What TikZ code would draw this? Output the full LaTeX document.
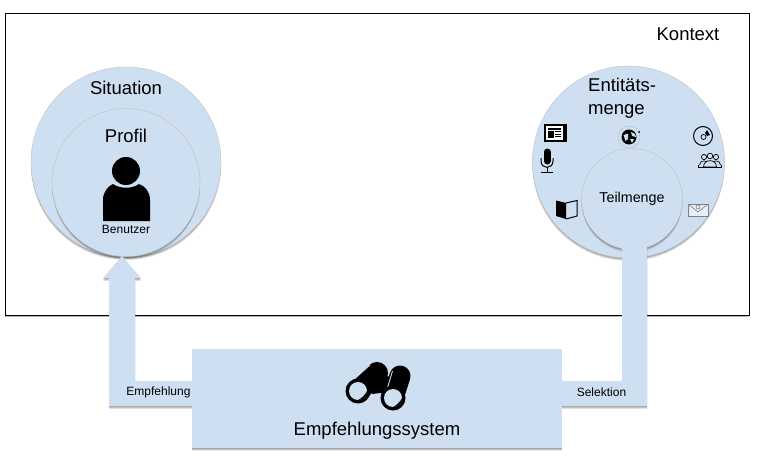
\documentclass[tikz,border=0pt]{standalone}
\usepackage{fontspec}
\setmainfont{Liberation Sans}
\usetikzlibrary{shadows}
\definecolor{paleblue}{RGB}{205,223,240}
\newcommand{\bigfont}{\fontsize{18.5}{23}\selectfont}
\newcommand{\midfont}{\fontsize{14.3}{17}\selectfont}
\newcommand{\smallfont}{\fontsize{12}{14}\selectfont}
\tikzset{
  softshadow/.style={
    general shadow={shadow xshift=0pt,shadow yshift=-1pt,fill=black,opacity=0.16},
    general shadow={shadow xshift=0pt,shadow yshift=-2pt,fill=black,opacity=0.14},
    general shadow={shadow xshift=0pt,shadow yshift=-3pt,fill=black,opacity=0.10},
  },
  bubble/.style={circle,fill=paleblue,draw=black!22,line width=0.5pt,inner sep=0pt,softshadow},
  panel/.style={fill=paleblue,softshadow},
  label/.style={inner sep=0pt,align=center,text=black},
  icon/.style={fill=black,draw=none},
  iconline/.style={draw=black,fill=none,line width=1pt},
}
\begin{document}
\begin{tikzpicture}[x=1pt,y=-1pt]
    \useasboundingbox (0,0) rectangle (758,460);

    % context frame
    \node[draw=black,line width=0.7pt,fill=white,minimum width=744pt,minimum height=302pt,inner sep=0pt,
      drop shadow={shadow xshift=0pt,shadow yshift=-1.5pt,fill=black,opacity=0.3}] (frame) at (377,164) {};
    \node[label] (kontext) at (688,34) {\bigfont Kontext};

    % left side
    \node[bubble,minimum size=190pt] (situation) at (126,162) {};
    \node[bubble,minimum size=148pt] (profil) at (126,182.5) {};
    \node[label] (situationtext) at (126,88) {\bigfont Situation};
    \node[label] (profiltext) at (126,136) {\bigfont Profil};

    % user
    \node[circle,fill=black,minimum size=28pt,inner sep=0pt] (head) at (126,171) {};
    \fill[icon] (103,221) -- (103,200) .. controls (103,192) and (108,186) .. (113,184)
      .. controls (120,189) and (132,189) .. (139,184)
      .. controls (145,186) and (150,192) .. (150,200) -- (150,221) -- cycle;
    \node[label] (benutzer) at (126,229) {\smallfont Benutzer};

    % right side
    \node[bubble,minimum size=192pt] (entitaet) at (628.5,162) {};
    \node[bubble,minimum size=101pt] (teilmenge) at (632,199) {};
    \node[label,align=left,anchor=west,font=\bigfont] (entitaettext) at (588,98) {Entitäts-\\menge};
    \node[label] (teilmengetext) at (632,199) {\midfont Teilmenge};

    % arms
    \fill[panel] (622,245) -- (647,245) -- (647,406) -- (540,406) -- (540,381) -- (622,381) -- cycle;
    \fill[panel] (220,381) -- (135,381) -- (135,278) -- (141,278) -- (122,256) -- (103,278)
      -- (109,278) -- (109,406) -- (220,406) -- cycle;

    % system
    \node[panel,minimum width=370pt,minimum height=99pt,inner sep=0pt] (system) at (377,398.5) {};
    \node[label] (empfehlung) at (158.5,392) {\smallfont Empfehlung};
    \node[label] (selektion) at (601.5,392) {\smallfont Selektion};
    \node[label] (systemtext) at (377,431) {\bigfont Empfehlungssystem};

    % binoculars
    \draw[black,line width=22pt,line cap=round] (358,391) -- (377,373);
    \draw[black,line width=21pt,line cap=round] (393,398) -- (400,376);
    \fill[black] (378,372) -- (396,380) -- (388,392) -- (372,394) -- cycle;
    \draw[paleblue,line width=0.9pt] (351,382) -- (370,365);
    \draw[paleblue,line width=0.9pt] (386.5,391) -- (392.5,371);
    \foreach \cx/\cy in {358/391,393/398}{
      \fill[black] (\cx,\cy) circle (12.5pt);
      \fill[paleblue] (\cx,\cy) circle (9pt);
      \fill[black] (\cx+9,\cy) .. controls (\cx+9,\cy+6) and (\cx+5,\cy+9) .. (\cx,\cy+9)
        .. controls (\cx+4,\cy+7) and (\cx+7,\cy+4) .. cycle;
    }

    % newspaper
    \fill[icon] (544,124) rectangle (567,142);
    \fill[white] (546,126) rectangle (562.5,140);
    \fill[icon] (547.5,127.5) rectangle (561,129.5);
    \fill[icon] (547.5,131) rectangle (553.5,138);
    \foreach \ly in {131,133.5,136}{
      \fill[icon] (555,\ly) rectangle (561,\ly+1.2);
    }

    % microphone
    \draw[black,line width=7pt,line cap=round] (547,152) -- (547,161);
    \draw[iconline] (541,158) -- (541,161) .. controls (541,169.5) and (553,169.5) .. (553,161) -- (553,158);
    \draw[iconline] (547,167) -- (547,172);
    \draw[iconline] (541,172.5) -- (553,172.5);

    % book
    \fill[icon] (556,200.5) -- (566,203) -- (566,219) -- (556,216) -- cycle;
    \draw[iconline] (566,203) -- (577,200.5) -- (577,216) -- (566,219);

    % globe
    \draw[gray,densely dotted,line width=0.4pt] (629,137) circle (11pt);
    \fill[icon] (629,137) circle (7.5pt);
    \fill[paleblue] (623.5,135) -- (628,133.5) -- (628,139) -- (625.5,141) -- cycle;
    \fill[paleblue] (631,132) -- (635,134) -- (636,137) -- (632,136) -- cycle;
    \fill[paleblue] (630,139) -- (634,139) -- (632,143) -- cycle;
    \fill[icon] (639,132) circle (1pt);

    % disc
    \draw[iconline] (703,136) circle (9.5pt);
    \draw[black,line width=0.7pt] (703.5,137) circle (2.5pt);
    \fill[icon] (705,133) -- (707,130) -- (710,135) -- (707,136) -- cycle;

    % people
    \foreach \px in {704,716}{
      \draw[black,line width=0.7pt] (\px,157) circle (2.6pt);
      \draw[black,line width=0.7pt] (\px-4.5,165) .. controls (\px-4.5,159.5) and (\px+4.5,159.5) .. (\px+4.5,165);
    }
    \draw[black,line width=0.7pt,fill=paleblue] (710,156) circle (2.8pt);
    \draw[black,line width=0.7pt,fill=paleblue] (703.5,167) .. controls (703.5,158.5) and (716.5,158.5) .. (716.5,167) -- cycle;
    \draw[black,line width=0.7pt] (698.5,165) -- (698.5,167) -- (721.5,167) -- (721.5,165);

    % envelope
    \draw[gray,line width=0.6pt,fill=white!50!paleblue] (688,204) -- (708,204) -- (708,216) -- (688,216) -- cycle;
    \draw[gray,line width=0.6pt] (688,204) -- (698,212) -- (708,204);
    \draw[gray,line width=0.6pt] (698,207) circle (2pt);

\end{tikzpicture}
\end{document}
